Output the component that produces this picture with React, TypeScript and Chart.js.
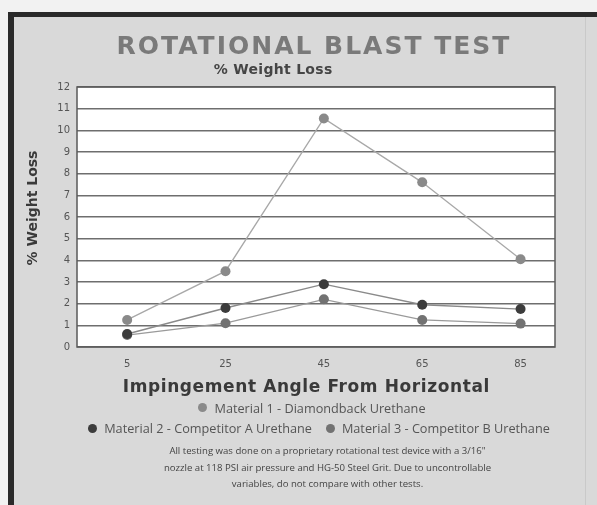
import React, { useEffect, useRef } from "react";
import { Chart, registerables } from "chart.js";

Chart.register(...registerables);

const angles = [5, 25, 45, 65, 85];
const material1 = [1.25, 3.5, 10.55, 7.6, 4.05];
const material2 = [0.6, 1.8, 2.9, 1.95, 1.75];
const material3 = [0.55, 1.1, 2.2, 1.25, 1.08];
const seriesLabels = [
  "Material 1 - Diamondback Urethane",
  "Material 2 - Competitor A Urethane",
  "Material 3 - Competitor B Urethane",
];
const pointColors = ["#8a8a8a", "#3c3c3c", "#727272"];
const lineColors = ["#a8a8a8", "#8a8a8a", "#9a9a9a"];
const yTicks = [0, 1, 2, 3, 4, 5, 6, 7, 8, 9, 10, 11, 12];
const titleText = "ROTATIONAL BLAST TEST";
const subtitleText = "% Weight Loss";
const yTitle = "% Weight Loss";
const xTitle = "Impingement Angle From Horizontal";
const noteLines = [
  "All testing was done on a proprietary rotational test device with a 3/16\"",
  "nozzle at 118 PSI air pressure and HG-50 Steel Grit. Due to uncontrollable",
  "variables, do not compare with other tests.",
];

const FONT = "DejaVu Sans";

function drawText(
  ctx: any,
  text: string,
  x: number,
  y: number,
  font: string,
  color: string,
  spacing: number,
  rotate = 0
) {
  ctx.save();
  ctx.font = font;
  ctx.fillStyle = color;
  ctx.textAlign = "center";
  ctx.textBaseline = "middle";
  try {
    ctx.letterSpacing = spacing + "px";
  } catch (e) {}
  ctx.translate(x + (rotate ? 0 : spacing / 2), y + (rotate ? -spacing / 2 : 0));
  if (rotate) ctx.rotate(rotate);
  ctx.fillText(text, 0, 0);
  ctx.restore();
}

const chartDecor = {
  id: "chartDecor",
  beforeDraw(chart: any) {
    const { ctx, chartArea: a } = chart;
    ctx.save();
    ctx.fillStyle = "#ffffff";
    ctx.fillRect(a.left, a.top, a.right - a.left, a.bottom - a.top);
    ctx.restore();
  },
  afterDatasetsDraw(chart: any) {
    const { ctx, chartArea: a } = chart;
    ctx.save();
    ctx.strokeStyle = "#5a5a5a";
    ctx.lineWidth = 1.5;
    ctx.strokeRect(a.left, a.top, a.right - a.left, a.bottom - a.top);
    ctx.restore();
  },
  afterDraw(chart: any) {
    const { ctx } = chart;
    drawText(ctx, titleText, 313, 47, `bold 25px "${FONT}"`, "#7a7a7a", 2);
    drawText(ctx, subtitleText, 273, 70, `bold 14px "${FONT}"`, "#454545", 0.3);
    drawText(ctx, xTitle, 306, 388, `bold 17px "${FONT}"`, "#3a3a3a", 0.6);
    drawText(ctx, yTitle, 33, 208, `bold 14px "${FONT}"`, "#3a3a3a", 0, -Math.PI / 2);
  },
};

function ChartCanvas() {
  const ref = useRef<HTMLCanvasElement | null>(null);
  useEffect(() => {
    if (!ref.current) return;
    const series = [material1, material2, material3];
    const chart = new Chart(ref.current, {
      type: "line",
      data: {
        datasets: series.map((vals, i) => ({
          label: seriesLabels[i],
          data: vals.map((v, j) => ({ x: angles[j], y: v })),
          borderColor: lineColors[i],
          borderWidth: 1.3,
          pointBackgroundColor: pointColors[i],
          pointBorderColor: pointColors[i],
          pointRadius: 5,
          pointBorderWidth: 0,
          tension: 0,
        })),
      },
      options: {
        responsive: false,
        animation: false,
        layout: { padding: { top: 87, left: 20, right: 42, bottom: 112 } },
        plugins: {
          legend: { display: false },
          tooltip: { enabled: false },
          title: { display: false },
        },
        scales: {
          x: {
            type: "linear",
            min: -5.2,
            max: 92,
            afterBuildTicks: (s: any) => {
              s.ticks = angles.map((v) => ({ value: v }));
            },
            afterFit: (s: any) => {
              s.height = 46;
            },
            grid: { display: false },
            border: { display: false },
            ticks: {
              padding: 3,
              color: "#555",
              font: { family: FONT, size: 10 },
              callback: (v: any) => String(v),
            },
          },
          y: {
            min: 0,
            max: 12,
            afterBuildTicks: (s: any) => {
              s.ticks = yTicks.map((v) => ({ value: v }));
            },
            afterFit: (s: any) => {
              s.width = 57;
            },
            grid: { color: "#6e6e6e", lineWidth: 1.4, drawTicks: false },
            border: { display: false },
            ticks: {
              padding: 7,
              color: "#555",
              font: { family: FONT, size: 10 },
            },
          },
        },
      },
      plugins: [chartDecor],
    } as any);
    return () => chart.destroy();
  }, []);
  return (
    <canvas
      ref={ref}
      width={597}
      height={505}
      style={{ position: "absolute", left: 0, top: 0, width: 597, height: 505 }}
    />
  );
}

function LegendItem({ i, gap }: { i: number; gap: number }) {
  return (
    <span style={{ display: "inline-flex", alignItems: "center", margin: `0 ${gap}px` }}>
      <span
        style={{
          display: "inline-block",
          width: 9,
          height: 9,
          borderRadius: "50%",
          background: pointColors[i],
          marginRight: 7,
        }}
      />
      <span>{seriesLabels[i]}</span>
    </span>
  );
}

export default function App() {
  useEffect(() => {
    document.body.style.margin = "0";
  }, []);
  const textFont = "'Open Sans', 'DejaVu Sans', sans-serif";
  return (
    <div style={{ position: "relative", width: 597, height: 505, background: "#f2f2f2", overflow: "hidden" }}>
      <div
        style={{
          position: "absolute",
          left: 8,
          top: 12,
          width: 589,
          height: 493,
          boxSizing: "border-box",
          borderLeft: "6px solid #2a2a2a",
          borderTop: "5px solid #2a2a2a",
          background: "#d9d9d9",
        }}
      />
      <div style={{ position: "absolute", left: 585, top: 17, width: 1, height: 488, background: "#c9c9c9" }} />
      <ChartCanvas />
      <div
        style={{
          position: "absolute",
          left: 0,
          width: 624,
          top: 397,
          textAlign: "center",
          fontFamily: textFont,
          fontSize: 12.7,
          color: "#555",
          lineHeight: "20px",
          whiteSpace: "nowrap",
        }}
      >
        <div><LegendItem i={0} gap={0} /></div>
        <div><LegendItem i={1} gap={14} /><LegendItem i={2} gap={0} /></div>
      </div>
      <div
        style={{
          position: "absolute",
          left: 100,
          width: 455,
          top: 443,
          textAlign: "center",
          fontFamily: textFont,
          fontSize: 9.6,
          color: "#444",
          lineHeight: "16.5px",
        }}
      >
        {noteLines.map((l, k) => (
          <div key={k}>{l}</div>
        ))}
      </div>
    </div>
  );
}
